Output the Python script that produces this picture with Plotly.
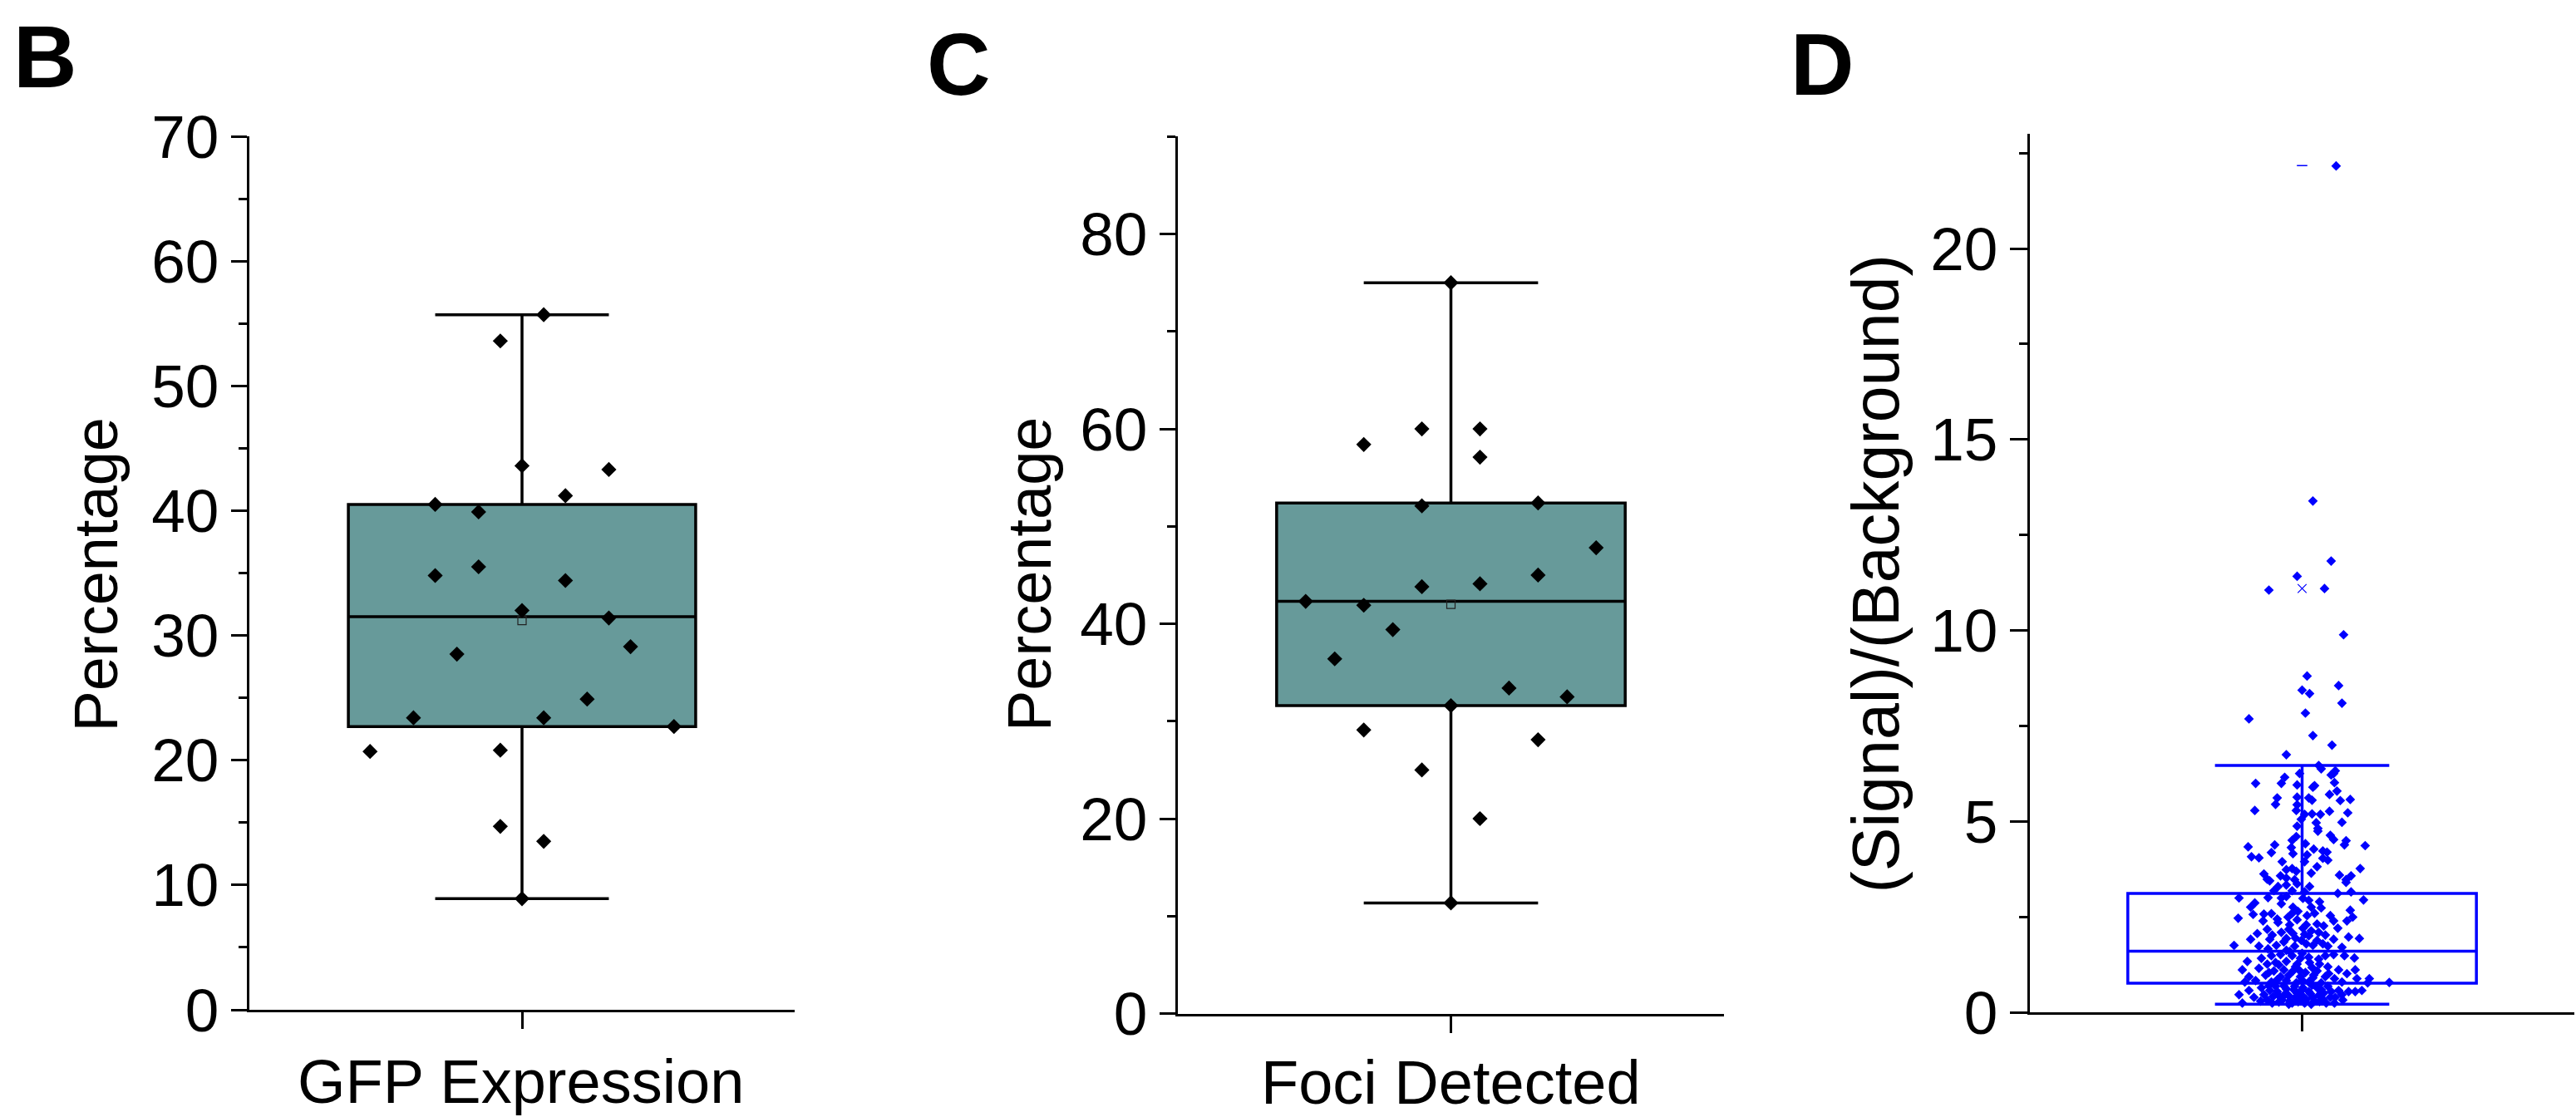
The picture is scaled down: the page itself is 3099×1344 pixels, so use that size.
import plotly.graph_objects as go

W, H = 3099, 1344
FONT = "Liberation Sans"
TEAL = "#679a9a"
BLUE = "#0000FF"

# ---------------- data ----------------
# Panel B : GFP Expression (%), one value per sample, with its jitter slot
gfp_values = [55.7, 53.6, 43.6, 43.3, 41.2, 40.5, 39.9, 34.8, 35.5, 34.4, 32.0, 31.4,
              28.5, 29.1, 24.9, 23.4, 23.4, 22.7, 20.7, 20.8, 14.7, 13.5, 8.9]
gfp_slots = [1, -1, 0, 4, 2, -4, -2, -4, -2, 2, 0, 4, -3, 5, 3, -5, 1, 7, -7, -1, -1, 1, 0]
gfp_box = [8.9, 22.7, 31.5, 40.5, 55.7]       # min, Q1, median, Q3, max
gfp_mean = 31.2

# Panel C : Foci Detected (%)
foci_values = [75.0, 58.4, 60.0, 60.0, 57.1, 52.1, 52.4, 47.8, 45.0, 44.1, 43.8, 42.3,
               41.9, 39.4, 36.4, 33.4, 32.5, 31.6, 29.1, 28.1, 25.0, 20.0, 11.35]
foci_slots = [0, -3, -1, 1, 1, -1, 3, 5, 3, 1, -1, -5, -3, -2, -4, 2, 4, 0, -3, 3, -1, 1, 0]
foci_box = [11.35, 31.6, 42.3, 52.4, 75.0]
foci_mean = 42.0

# Panel D : (Signal)/(Background), value and horizontal jitter
sb_values = [
    22.16, 13.39, 11.82, 11.42, 11.06, 11.10, 9.89, 8.81, 8.56, 8.44, 8.35, 8.10, 7.84, 7.69, 7.25, 7.00, 6.75,
    6.47, 6.38, 6.26, 6.33, 6.22, 6.16, 6.26, 6.00, 6.00, 5.96, 6.02, 5.90, 5.94, 5.80, 5.71, 5.62, 5.64, 5.62,
    5.56, 5.55, 5.58, 5.45, 5.44, 5.29, 5.29, 5.27, 5.23, 5.20, 5.19, 5.19, 5.06, 4.98, 4.97, 4.88, 4.82, 4.75,
    4.64, 4.53, 4.50, 4.61, 4.51, 4.42, 4.39, 4.37, 4.34, 4.39, 4.32, 4.28, 4.19, 4.16, 4.23, 4.20, 4.08, 4.05,
    4.13, 4.04, 3.95, 3.95, 3.99, 3.82, 3.77, 3.74, 3.77, 3.70, 3.65, 3.63, 3.60, 3.58, 3.58, 3.52, 3.49, 3.48,
    3.45, 3.48, 3.30, 3.30, 3.34, 3.37, 3.19, 3.19, 3.12, 3.16, 3.16, 3.41,
    3.00, 3.01, 3.00, 3.04, 2.99, 2.94, 2.95, 2.90, 2.87, 2.76, 2.76, 2.76, 2.74, 2.68, 2.58, 2.59, 2.57, 2.54,
    2.54, 2.50, 2.47, 2.50, 2.43, 2.40, 2.36, 2.40, 2.40, 2.32, 2.27, 2.18, 2.18, 2.21, 2.14, 2.21, 2.07, 2.03,
    2.07, 2.01, 2.03, 1.98, 1.94, 1.92, 1.92, 1.94, 1.89, 1.89, 1.92, 1.76, 1.74, 1.76, 1.74, 1.76, 1.74, 1.71,
    1.67, 1.63, 2.85, 2.65, 2.60, 2.30, 2.30, 2.10, 2.10, 1.95, 1.80, 1.85, 1.80, 2.45, 2.60, 2.05,
    1.34, 1.12, 1.42, 1.49, 1.52, 1.49, 1.42, 1.45, 1.49, 1.52, 1.49, 1.43, 1.27, 1.31, 1.34, 1.27, 1.31, 1.27,
    1.20, 1.12, 1.12, 1.16, 1.09, 1.12, 1.09, 1.05, 1.09, 1.02, 0.94, 0.98, 0.94, 0.98, 0.94, 0.91, 0.94, 0.89,
    0.89, 0.89, 0.80, 0.84, 0.80, 0.84, 0.78, 0.80, 0.78, 0.80, 0.78, 0.79,
    1.25, 1.20, 1.18, 1.55, 1.40, 1.60, 1.10, 1.02, 1.05, 0.98, 0.86, 0.85,
    0.47, 0.58, 0.40, 0.25, 0.65, 0.47, 0.58, 0.69, 0.47, 0.33, 0.62, 0.44, 0.25, 0.69, 0.51, 0.36, 0.65, 0.25,
    0.55, 0.40, 0.65, 0.29, 0.51, 0.69, 0.40, 0.25, 0.58, 0.33, 0.55, 0.55, 0.58, 0.47, 0.25, 0.33, 0.22, 0.22,
    0.25, 0.55, 0.50, 0.60, 0.45, 0.50, 0.45, 0.38, 0.30, 0.35, 0.30, 0.35, 0.42, 0.55, 0.30, 0.60, 0.70, 0.72,
    0.40, 0.30, 0.40, 0.60, 0.70, 0.28, 0.28,
]
sb_jitter = [
    41, 13, 35, -6, -40, 27, 50, 6, 44, 0, 9, 48, 4, -64, 13, 36, -19,
    20, 23, 38, 40, 35, -21, -3, -56, -25, -6, 39, 13, 15, 42, 33, -30, -6, 8,
    12, 46, 58, -32, -6, -7, -57, 33, 55, 12, 22, 3, -1, 48, 17, -6, 19, 19,
    34, 38, 53, -7, -12, 4, 51, 76, -65, -33, -13, 14, -37, -11, 25, 30, -61, -52,
    6, 25, -24, 3, 31, 18, 70, -19, -12, -7, 11, -46, 45, 59, -26, -19, -42, 53,
    -39, -9, 9, -29, -19, -6, -34, -12, 43, 59, 3, 53,
    -76, -41, -25, -19, 1, 8, 74, 21, -57, -62, -11, 11, 23, 58, -46, -37, -59, 6,
    34, 61, -77, -17, -6, -47, -29, 38, 54, 18, 26, -42, -16, 1, 11, 43, -54, -36,
    -11, 8, 28, 56, 69, -62, -39, -19, -1, 18, 38, -82, -52, -31, -9, 13, 31, 48,
    -41, -19, -25, -5, 15, -15, 5, -25, 20, -8, 5, -22, 25, -30, -12, 3,
    -66, -72, -49, -37, -26, -12, -2, 8, 28, 38, 51, 63, -42, -32, -19, -6, 9, 21,
    31, 44, 64, -52, -34, -22, -11, 4, 18, 54, -64, -44, -26, -16, -2, 13, 28, 39,
    66, 81, -69, -56, -37, -19, -7, 8, 23, 48, 79, 105,
    -28, -8, 12, 0, 20, -15, -3, 32, -40, 14, -30, 0,
    -76, -64, -58, -72, -49, -46, -39, -32, -29, -24, -19, -16, -12, -9, -6, -2, 1, 3,
    8, 13, 18, 21, 26, 31, 34, 39, 44, 49, 56, 64, 72, 48, -36, -42, 11, -16,
    29, -30, -20, -10, 0, 10, 20, -25, -5, 5, 15, 25, -35, 35, -15, 0, -22, 12,
    40, -50, -8, 23, -40, 4, -28,
]
sb_box = [0.22, 0.77, 1.61, 3.12, 6.47]       # lower whisker, Q1, median, Q3, upper whisker
sb_percentiles = [0.28, 11.10]                # 1 % and 99 %
sb_minmax = [0.22, 22.17]                     # min and max

# categories / titles
panel_titles = ["GFP Expression", "Foci Detected", ""]
y_titles = ["Percentage", "Percentage", "(Signal)/(Background)"]
panel_letters = ["B", "C", "D"]

# box widths in jitter units
B_BOX_WIDTH = 16
C_BOX_WIDTH = 12
D_BOX_WIDTH = 420

fig = go.Figure()


def add_box(stats, width, xa, ya, fill, color):
    fig.add_trace(go.Box(
        x=[0], lowerfence=[stats[0]], q1=[stats[1]], median=[stats[2]],
        q3=[stats[3]], upperfence=[stats[4]], width=width, whiskerwidth=0.5,
        fillcolor=fill, line=dict(color=color, width=3.5), orientation="v",
        boxpoints=False, hoverinfo="skip", xaxis=xa, yaxis=ya, showlegend=False))


# Panel B
add_box(gfp_box, B_BOX_WIDTH, "x", "y", TEAL, "black")
fig.add_trace(go.Scatter(x=[0], y=[gfp_mean], mode="markers", xaxis="x", yaxis="y",
                         marker=dict(symbol="square-open", size=10, color="#222222",
                                     line=dict(width=1.2)), hoverinfo="skip"))
fig.add_trace(go.Scatter(x=gfp_slots, y=gfp_values, mode="markers", xaxis="x", yaxis="y",
                         cliponaxis=False,
                         marker=dict(symbol="diamond", size=14, color="black",
                                     line=dict(width=0))))

# Panel C
add_box(foci_box, C_BOX_WIDTH, "x2", "y2", TEAL, "black")
fig.add_trace(go.Scatter(x=[0], y=[foci_mean], mode="markers", xaxis="x2", yaxis="y2",
                         marker=dict(symbol="square-open", size=10, color="#222222",
                                     line=dict(width=1.2)), hoverinfo="skip"))
fig.add_trace(go.Scatter(x=foci_slots, y=foci_values, mode="markers", xaxis="x2", yaxis="y2",
                         cliponaxis=False,
                         marker=dict(symbol="diamond", size=14, color="black",
                                     line=dict(width=0))))

# Panel D
add_box(sb_box, D_BOX_WIDTH, "x3", "y3", "rgba(0,0,0,0)", BLUE)
fig.add_trace(go.Scatter(x=sb_jitter, y=sb_values, mode="markers", xaxis="x3", yaxis="y3",
                         cliponaxis=False,
                         marker=dict(symbol="diamond", size=9, color=BLUE,
                                     line=dict(width=0))))
fig.add_trace(go.Scatter(x=[0] * len(sb_percentiles), y=sb_percentiles, mode="markers",
                         xaxis="x3", yaxis="y3",
                         marker=dict(symbol="x-thin", size=10.5, color=BLUE,
                                     line=dict(width=1.2, color=BLUE))))
fig.add_trace(go.Scatter(x=[0] * len(sb_minmax), y=sb_minmax, mode="markers",
                         xaxis="x3", yaxis="y3",
                         marker=dict(symbol="line-ew", size=9, color=BLUE,
                                     line=dict(width=1.5, color=BLUE))))


def fx(p):
    return p / W


def fy(p):
    return 1 - p / H


tickfont = dict(family=FONT, size=73, color="black")


def xaxis(dom, half, anchor):
    return dict(domain=[fx(dom[0]), fx(dom[1])], range=[-half, half], showline=True,
                linewidth=3, linecolor="black", ticks="outside", tickvals=[0],
                ticklen=20, tickwidth=3, tickcolor="black", showticklabels=False,
                showgrid=False, zeroline=False, fixedrange=True, automargin=False,
                anchor=anchor)


def yaxis(dom, top, dtick, minor, ticklen, anchor):
    return dict(domain=[fy(dom[1]), fy(dom[0])], range=[0, top], showline=True,
                linewidth=3, linecolor="black", ticks="outside", tick0=0, dtick=dtick,
                ticklen=ticklen, tickwidth=3, tickcolor="black", tickfont=tickfont,
                minor=dict(dtick=minor, ticks="outside", ticklen=10, tickwidth=3,
                           tickcolor="black", showgrid=False),
                showgrid=False, zeroline=False, fixedrange=True, automargin=False,
                anchor=anchor)


fig.update_layout(
    width=W, height=H, margin=dict(l=0, r=0, t=0, b=0, autoexpand=False),
    paper_bgcolor="white", plot_bgcolor="white", showlegend=False,
    font=dict(family=FONT, color="black"),
    xaxis=xaxis((300, 956), 12.56, "y"), yaxis=yaxis((164, 1215), 70, 10, 5, 19, "x"),
    xaxis2=xaxis((1417, 2074), 9.4, "y2"),
    yaxis2=yaxis((164.3, 1219.5), 90, 20, 10, 19, "x2"),
    xaxis3=xaxis((2442, 3097), 328, "y3"),
    yaxis3=yaxis((161.1, 1218.4), 23, 5, 2.5, 21, "x3"),
)

ann = []
letter_pos = [(54, 67.5), (1153, 77.5), (2192, 77)]
for t, (px, py) in zip(panel_letters, letter_pos):
    ann.append(dict(text="<b>%s</b>" % t, x=fx(px), y=fy(py), xref="paper", yref="paper",
                    xanchor="center", yanchor="middle", showarrow=False,
                    font=dict(family=FONT, size=106, color="black")))
xt_pos = [(626.5, 1301), (1745, 1302)]
for t, (px, py) in zip(panel_titles[:2], xt_pos):
    ann.append(dict(text=t, x=fx(px), y=fy(py), xref="paper", yref="paper",
                    xanchor="center", yanchor="middle", showarrow=False,
                    font=dict(family=FONT, size=74, color="black")))
yt_pos = [(115, 691.5, 74), (1238, 691, 74), (2256, 690.5, 79)]
for t, (px, py, fs) in zip(y_titles, yt_pos):
    ann.append(dict(text=t, x=fx(px), y=fy(py), xref="paper", yref="paper",
                    xanchor="center", yanchor="middle", showarrow=False, textangle=-90,
                    font=dict(family=FONT, size=fs, color="black")))
fig.update_layout(annotations=ann)

fig.write_html("out.html", config={"displayModeBar": False},
               post_script="document.body.style.margin='0';document.body.style.overflow='hidden';")
